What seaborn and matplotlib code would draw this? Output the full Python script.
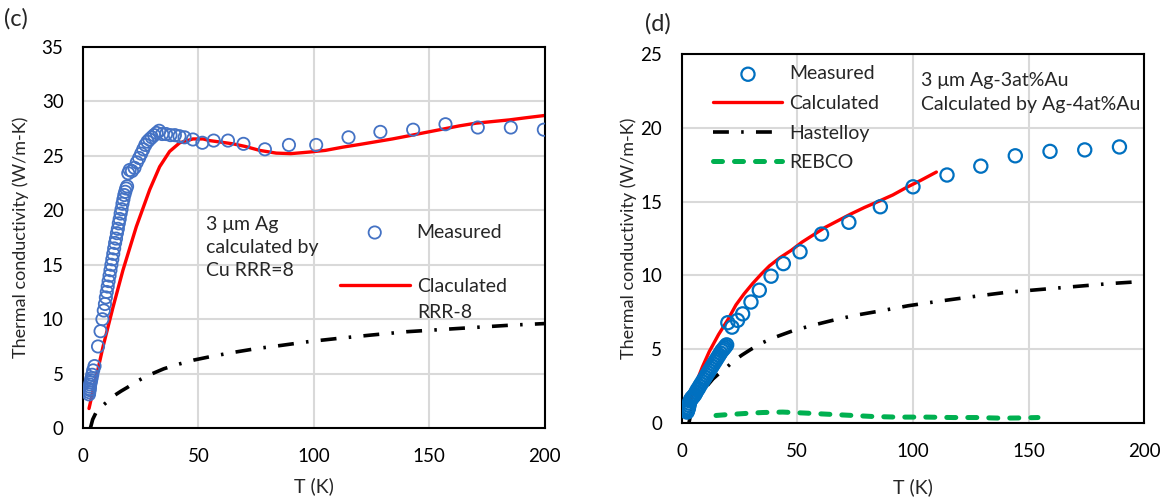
import matplotlib
matplotlib.use("Agg")
import matplotlib.pyplot as plt
import seaborn as sns

# panel (c): 3 um Ag
T_meas_c = [2.6, 2.7, 2.8, 2.9, 3.0, 3.1, 3.3, 3.5, 3.7, 4.0,
            4.4, 5.0, 6.5, 7.6, 8.4, 9.0, 9.5, 9.9, 10.3, 10.7,
            11.1, 11.5, 11.9, 12.3, 12.7, 13.1, 13.5, 13.9, 14.3, 14.7,
            15.1, 15.5, 15.9, 16.3, 16.7, 17.1, 17.5, 17.9, 18.3, 18.7,
            19.1, 19.6, 20.2, 21.2, 22.3, 23.3, 24.3, 25.2, 26.1, 27.0,
            27.9, 28.8, 29.8, 30.8, 31.9, 33.0, 34.3, 36.0, 37.9, 39.8,
            41.8, 44.0, 47.6, 51.7, 56.6, 62.8, 69.5, 78.8, 89.2, 101.0,
            115.0, 128.8, 143.0, 157.0, 171.0, 185.3, 199.6]
k_meas_c = [3.1, 3.3, 3.5, 3.6, 3.8, 4.0, 4.2, 4.4, 4.6, 4.9,
            5.3, 5.7, 7.5, 8.9, 10.0, 10.8, 11.4, 12.0, 12.5, 13.0,
            13.5, 14.0, 14.5, 15.0, 15.5, 16.0, 16.5, 17.0, 17.4, 17.9,
            18.3, 18.8, 19.2, 19.7, 20.1, 20.6, 21.0, 21.4, 21.7, 22.0,
            22.2, 23.4, 23.7, 23.6, 23.9, 24.4, 24.8, 25.2, 25.6, 26.0,
            26.3, 26.5, 26.7, 26.9, 27.1, 27.3, 27.0, 27.0, 26.9, 26.9,
            26.8, 26.7, 26.5, 26.2, 26.4, 26.4, 26.1, 25.6, 26.0, 26.0,
            26.7, 27.2, 27.4, 27.9, 27.6, 27.6, 27.4]

T_calc_c = [2.6, 5.1, 8.7, 13.0, 17.3, 23.1, 28.9, 33.2, 37.5, 41.9,
            47.6, 52.0, 54.8, 60.0, 65.0, 70.5, 76.5, 83.7, 90.0, 98.2,
            105.0, 112.6, 120.0, 127.0, 134.0, 141.4, 148.5, 155.8, 163.0, 170.3,
            177.5, 184.7, 192.0, 199.8]
k_calc_c = [1.8, 4.1, 7.5, 11.1, 14.5, 18.5, 21.9, 24.0, 25.4, 26.2,
            26.55, 26.55, 26.4, 26.25, 26.1, 25.85, 25.5, 25.25, 25.2, 25.35,
            25.5, 25.8, 26.05, 26.3, 26.55, 26.85, 27.15, 27.45, 27.75, 28.0,
            28.15, 28.3, 28.5, 28.7]

# Hastelloy (same curve in both panels)
T_hast = [3.2, 4.2, 5.8, 7.8, 10.1, 13.6, 16.5, 19.3, 22.5, 26.0,
          30.0, 35.0, 41.0, 48.0, 56.0, 65.0, 75.0, 86.0, 98.0, 111.0,
          125.0, 140.0, 155.0, 170.0, 185.0, 200.0]
k_hast = [0.0, 0.8, 1.5, 1.95, 2.35, 3.0, 3.4, 3.75, 4.2, 4.6,
          5.0, 5.45, 5.85, 6.25, 6.6, 6.95, 7.3, 7.6, 7.95, 8.25,
          8.55, 8.85, 9.05, 9.25, 9.45, 9.6]

# panel (d): 3 um Ag-3at%Au
T_meas_d = [2.4, 2.6, 2.8, 3.0, 3.2, 3.4, 3.7, 4.0, 4.4, 4.8,
            5.3, 5.8, 6.3, 6.8, 7.3, 7.8, 8.4, 9.0, 9.6, 10.2,
            10.8, 11.4, 12.0, 12.6, 13.2, 13.8, 14.4, 15.0, 15.6, 16.2,
            16.8, 17.4, 18.0, 18.5, 19.0, 19.5, 20.0, 21.8, 24.2, 26.4,
            30.0, 33.6, 38.7, 44.0, 51.2, 60.5, 72.3, 85.9, 100.0, 114.7,
            129.3, 144.2, 159.2, 174.2, 189.2]
k_meas_d = [0.75, 0.85, 0.95, 1.05, 1.2, 1.35, 1.5, 1.6, 1.7, 1.75,
            1.85, 1.95, 2.1, 2.25, 2.35, 2.5, 2.65, 2.8, 2.95, 3.1,
            3.25, 3.4, 3.55, 3.7, 3.85, 4.0, 4.15, 4.3, 4.45, 4.6,
            4.75, 4.9, 5.0, 5.1, 5.2, 5.3, 6.8, 6.5, 6.96, 7.4,
            8.2, 9.0, 9.95, 10.8, 11.6, 12.8, 13.6, 14.65, 16.0, 16.8,
            17.4, 18.1, 18.4, 18.5, 18.7]

T_calc_d = [4.0, 6.0, 9.0, 12.0, 16.0, 20.0, 23.5, 27.0, 30.7, 34.5,
            38.0, 42.5, 47.4, 52.0, 57.0, 62.0, 67.5, 73.0, 79.0, 85.6,
            91.3, 97.1, 103.5, 110.1]
k_calc_d = [1.6, 2.6, 3.8, 4.85, 6.0, 7.0, 8.0, 8.75, 9.45, 10.1,
            10.65, 11.2, 11.7, 12.25, 12.75, 13.25, 13.7, 14.15, 14.6, 15.05,
            15.45, 15.95, 16.45, 17.0]

T_rebco = [14.9, 20.0, 25.0, 30.0, 35.0, 43.7, 53.8, 62.5, 74.0, 82.7,
           92.8, 105.8, 117.3, 127.4, 137.5, 145.0, 154.0]
k_rebco = [0.52, 0.58, 0.63, 0.68, 0.72, 0.75, 0.68, 0.61, 0.52, 0.45,
           0.41, 0.41, 0.38, 0.38, 0.34, 0.35, 0.38]

sns.set_style("white")
plt.rcParams['font.family'] = ['Lato', 'DejaVu Sans']

FS = 14      # legend / notes
TICK_FS = 13.5
HAST_STYLE = (0, (4.4, 3.4, 0.7, 3.4))
REBCO_STYLE = (0, (1.8, 2.4))


def style_axes(ax, ymax):
    ax.set_xlim(0, 200)
    ax.set_ylim(0, ymax)
    ax.set_xticks(range(0, 201, 50))
    ax.set_yticks(range(0, ymax + 1, 5))
    ax.grid(True, color='#D9D9D9', linewidth=1.5)
    ax.set_axisbelow(True)
    for s in ax.spines.values():
        s.set_color('black')
        s.set_linewidth(1.5)
    ax.tick_params(length=0, pad=14, labelsize=TICK_FS, colors='black')
    ax.set_xlabel('T (K)', fontsize=14)
    ax.set_ylabel('Thermal conductivity (W/m-K)', fontsize=13)


fig = plt.figure(figsize=(11.69, 4.99), dpi=100)
ax1 = fig.add_axes([0.071, 0.142, 0.395, 0.764])
ax2 = fig.add_axes([0.583, 0.152, 0.396, 0.740])

# ---- (c)
sns.lineplot(x=T_hast, y=k_hast, ax=ax1, color='black', linewidth=2.6,
             linestyle=HAST_STYLE, sort=False, estimator=None)
sns.scatterplot(x=T_meas_c, y=k_meas_c, ax=ax1, marker='o', s=78,
                facecolors='none', edgecolor='#4472C4', linewidth=1.3,
                label='Measured', zorder=3)
sns.lineplot(x=T_calc_c, y=k_calc_c, ax=ax1, color='red', linewidth=2.4,
             sort=False, estimator=None, label='Claculated')
style_axes(ax1, 35)
ax1.xaxis.set_label_coords(0.5, -0.13)
ax1.yaxis.set_label_coords(-0.117, 0.5)
ax1.legend(loc='upper left', bbox_to_anchor=(0.556, 0.5365), frameon=False,
           fontsize=FS, handlelength=3.6, handletextpad=0.36, borderpad=0,
           borderaxespad=0, labelspacing=1.9)
# second line of the red label sits under "Claculated"
ax1.text(0.723, 0.303, 'RRR-8', transform=ax1.transAxes, fontsize=FS,
         va='center', ha='left')
ax1.text(0.266, 0.557, '3 μm Ag\ncalculated by\nCu RRR=8', transform=ax1.transAxes,
         fontsize=FS, va='top', ha='left', linespacing=1.42)

# ---- (d)
sns.scatterplot(x=T_meas_d, y=k_meas_d, ax=ax2, marker='o', s=90,
                facecolors='none', edgecolor='#0070C0', linewidth=1.6,
                label='Measured', zorder=3)
sns.lineplot(x=T_calc_d, y=k_calc_d, ax=ax2, color='red', linewidth=2.4,
             sort=False, estimator=None, label='Calculated')
sns.lineplot(x=T_hast, y=k_hast, ax=ax2, color='black', linewidth=2.6,
             linestyle=HAST_STYLE, sort=False, estimator=None, label='Hastelloy')
sns.lineplot(x=T_rebco, y=k_rebco, ax=ax2, color='#00B050', linewidth=3.6,
             linestyle=REBCO_STYLE, dash_capstyle='round', sort=False,
             estimator=None, label='REBCO')
style_axes(ax2, 25)
ax2.xaxis.set_label_coords(0.5, -0.148)
ax2.yaxis.set_label_coords(-0.097, 0.5)
ax2.legend(loc='upper left', bbox_to_anchor=(0.069, 0.969), frameon=False,
           fontsize=FS, handlelength=3.55, handletextpad=0.36, borderpad=0,
           borderaxespad=0, labelspacing=0.65)
ax2.text(0.517, 0.95, '3 μm Ag-3at%Au\nCalculated by Ag-4at%Au', transform=ax2.transAxes,
         fontsize=FS, va='top', ha='left', linespacing=1.44)

fig.text(0.003, 0.962, '(c)', fontsize=17, va='center', ha='left')
fig.text(0.552, 0.952, '(d)', fontsize=17, va='center', ha='left')

fig.savefig('out.png', dpi=100)
